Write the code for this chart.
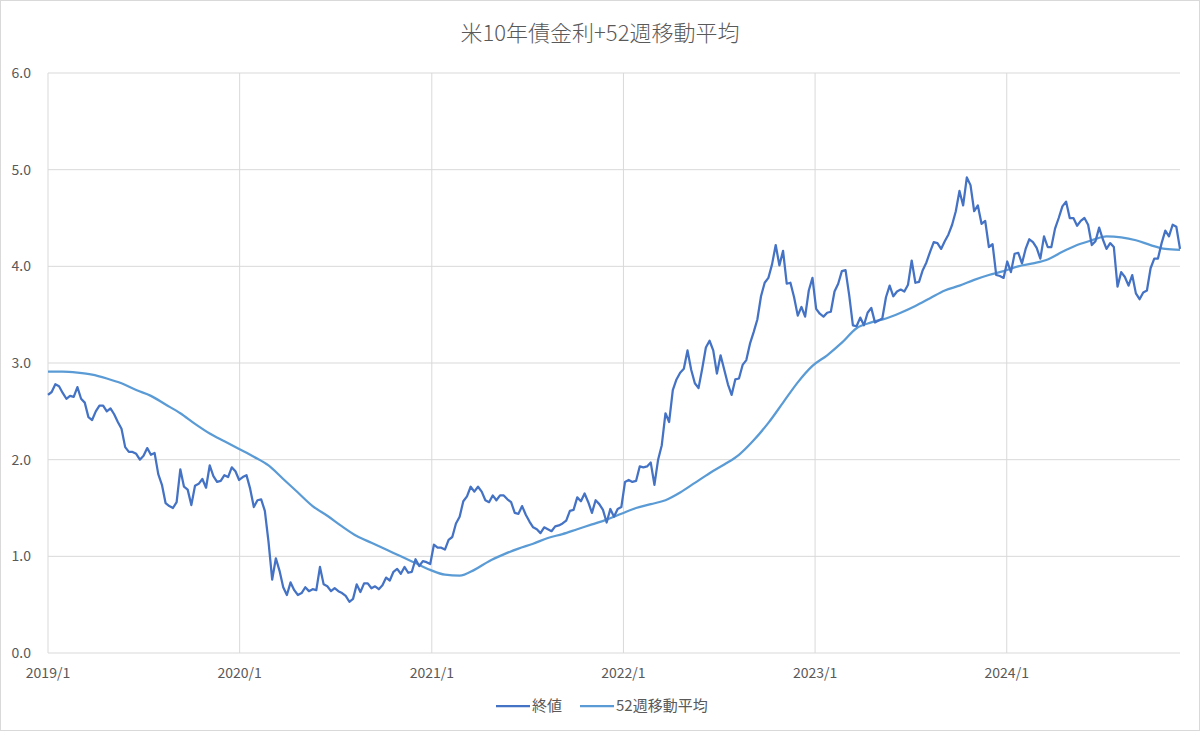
<!DOCTYPE html>
<html>
<head>
<meta charset="utf-8">
<script src="https://cdn.jsdelivr.net/npm/d3@7"></script>
<style>
  body { margin: 0; background: #fff; }
  svg { display: block; font-family: "Noto Sans CJK JP", "Noto Sans", sans-serif; }
</style>
</head>
<body>
<div id="chart"></div>
<script>
const title = "米10年債金利+52週移動平均";
const seriesNames = ["終値", "52週移動平均"];
const firstWeek = new Date(2019, 0, 4);

// weekly closes (Friday)
const close2019 = [2.67, 2.70, 2.78, 2.76, 2.69, 2.63, 2.66, 2.65, 2.75, 2.63, 2.59, 2.44, 2.41,
  2.50, 2.56, 2.56, 2.50, 2.53, 2.47, 2.39, 2.32, 2.13, 2.08, 2.08, 2.06, 2.00,
  2.04, 2.12, 2.05, 2.07, 1.85, 1.74, 1.55, 1.52, 1.50, 1.56, 1.90, 1.72, 1.69,
  1.53, 1.73, 1.75, 1.80, 1.71, 1.94, 1.83, 1.77, 1.78, 1.84, 1.82, 1.92, 1.88];
const close2020 = [1.79, 1.82, 1.84, 1.70, 1.51, 1.58, 1.59, 1.47, 1.15, 0.76, 0.98, 0.85, 0.68,
  0.60, 0.73, 0.65, 0.60, 0.62, 0.68, 0.64, 0.66, 0.65, 0.89, 0.71, 0.69, 0.64,
  0.67, 0.64, 0.62, 0.59, 0.53, 0.56, 0.71, 0.63, 0.72, 0.72, 0.67, 0.69, 0.66,
  0.70, 0.78, 0.75, 0.84, 0.87, 0.82, 0.89, 0.83, 0.84, 0.97, 0.90, 0.95, 0.94];
const close2021 = [0.92, 1.12, 1.09, 1.09, 1.07, 1.17, 1.20, 1.34, 1.41, 1.57, 1.62, 1.72, 1.67,
  1.72, 1.67, 1.58, 1.56, 1.63, 1.58, 1.63, 1.63, 1.59, 1.56, 1.45, 1.44, 1.52,
  1.43, 1.36, 1.30, 1.28, 1.24, 1.30, 1.28, 1.26, 1.31, 1.32, 1.34, 1.37, 1.47,
  1.48, 1.61, 1.57, 1.65, 1.56, 1.45, 1.58, 1.54, 1.48, 1.35, 1.49, 1.41, 1.49, 1.51];
const close2022 = [1.77, 1.79, 1.77, 1.78, 1.93, 1.92, 1.93, 1.97, 1.74, 2.00, 2.15, 2.48,
  2.39, 2.72, 2.83, 2.90, 2.94, 3.13, 2.93, 2.79, 2.74, 2.94, 3.16, 3.23, 3.13,
  2.89, 3.08, 2.93, 2.78, 2.67, 2.83, 2.84, 2.98, 3.03, 3.20, 3.32, 3.45, 3.69, 3.83,
  3.88, 4.02, 4.22, 4.01, 4.16, 3.82, 3.83, 3.68, 3.49, 3.58, 3.48, 3.75, 3.88];
const close2023 = [3.56, 3.51, 3.48, 3.52, 3.53, 3.74, 3.82, 3.95, 3.96, 3.70, 3.39, 3.38, 3.47,
  3.39, 3.52, 3.57, 3.42, 3.44, 3.46, 3.68, 3.80, 3.69, 3.74, 3.76, 3.74, 3.81,
  4.06, 3.83, 3.84, 3.96, 4.04, 4.15, 4.25, 4.24, 4.18, 4.26, 4.33, 4.43, 4.57,
  4.78, 4.63, 4.92, 4.84, 4.57, 4.63, 4.44, 4.47, 4.20, 4.23, 3.91, 3.90, 3.88];
const close2024 = [4.05, 3.94, 4.13, 4.14, 4.03, 4.18, 4.28, 4.25, 4.19, 4.08, 4.31, 4.20, 4.20,
  4.39, 4.50, 4.62, 4.67, 4.50, 4.50, 4.42, 4.47, 4.50, 4.43, 4.22, 4.26, 4.40,
  4.28, 4.18, 4.24, 4.20, 3.79, 3.94, 3.89, 3.80, 3.91, 3.72, 3.66, 3.73, 3.75,
  3.98, 4.08, 4.08, 4.24, 4.37, 4.31, 4.43, 4.41, 4.18];

// 52-week moving average, read every 4th week
const maEvery = 4;
const movingAvg = [2.91, 2.91, 2.90, 2.88, 2.84, 2.79, 2.72, 2.66, 2.57, 2.48, 2.37, 2.27, 2.19,
  2.11, 2.03, 1.94, 1.80, 1.66, 1.52, 1.42, 1.31, 1.21, 1.14, 1.07, 1.00, 0.93,
  0.86, 0.81, 0.80, 0.86, 0.95, 1.02, 1.08, 1.13, 1.19, 1.23, 1.28, 1.33, 1.38,
  1.44, 1.50, 1.54, 1.58, 1.66, 1.76, 1.86, 1.95, 2.05, 2.20, 2.38, 2.59, 2.80,
  2.97, 3.08, 3.21, 3.36, 3.42, 3.46, 3.52, 3.59, 3.67, 3.75, 3.80, 3.86, 3.91,
  3.95, 4.00, 4.03, 4.07, 4.15, 4.22, 4.27, 4.31, 4.30, 4.27, 4.22, 4.18, 4.17];

const yTicks = [0, 1, 2, 3, 4, 5, 6];
const yearTicks = [0, 1, 2, 3, 4, 5];

const closes = [].concat(close2019, close2020, close2021, close2022, close2023, close2024);
const weekDate = (i) => d3.timeDay.offset(firstWeek, 7 * i);
const closeData = closes.map((v, i) => ({ date: weekDate(i), value: v }));
const maData = movingAvg.map((v, i) => ({ date: weekDate(i * maEvery), value: v }));

const width = 1200;
const height = 732;
const margin = { top: 73, right: 20, bottom: 79, left: 48 };

const svg = d3
  .select("#chart")
  .append("svg")
  .attr("width", width)
  .attr("height", height);

// outer border
svg
  .append("rect")
  .attr("x", 0.5)
  .attr("y", 0.5)
  .attr("width", width - 1)
  .attr("height", height - 2)
  .attr("fill", "#fff")
  .attr("stroke", "#d9d9d9");

const x = d3
  .scaleTime()
  .domain([closeData[0].date, closeData[closeData.length - 1].date])
  .range([margin.left, width - margin.right]);

const y = d3
  .scaleLinear()
  .domain([0, 6])
  .range([height - margin.bottom, margin.top]);

// horizontal gridlines
svg
  .append("g")
  .selectAll("line")
  .data(yTicks)
  .join("line")
  .attr("x1", margin.left)
  .attr("x2", width - margin.right)
  .attr("y1", (d) => y(d))
  .attr("y2", (d) => y(d))
  .attr("stroke", "#d9d9d9")
  .attr("stroke-width", 1);

// vertical gridlines at each year
const xTickDates = yearTicks.map((k) => d3.timeMonth.offset(firstWeek, 12 * k));
svg
  .append("g")
  .selectAll("line")
  .data(xTickDates)
  .join("line")
  .attr("x1", (d) => x(d))
  .attr("x2", (d) => x(d))
  .attr("y1", y(6))
  .attr("y2", y(0))
  .attr("stroke", "#d9d9d9")
  .attr("stroke-width", 1);

// y labels
svg
  .append("g")
  .selectAll("text")
  .data(yTicks)
  .join("text")
  .attr("x", margin.left - 17)
  .attr("y", (d) => y(d))
  .attr("dy", "0.35em")
  .attr("text-anchor", "end")
  .attr("fill", "#595959")
  .style("font-size", "14px")
  .text((d) => d.toFixed(1));

// x labels
const fmt = d3.timeFormat("%Y/%-m");
svg
  .append("g")
  .selectAll("text")
  .data(xTickDates)
  .join("text")
  .attr("x", (d) => x(d))
  .attr("y", y(0) + 25)
  .attr("text-anchor", "middle")
  .attr("fill", "#595959")
  .style("font-size", "14px")
  .text((d) => fmt(d));

const line = d3
  .line()
  .x((d) => x(d.date))
  .y((d) => y(d.value));

svg
  .append("path")
  .datum(maData)
  .attr("fill", "none")
  .attr("stroke", "#5b9bd5")
  .attr("stroke-width", 2.25)
  .attr("stroke-linejoin", "round")
  .attr("d", line.curve(d3.curveMonotoneX));

svg
  .append("path")
  .datum(closeData)
  .attr("fill", "none")
  .attr("stroke", "#4472c4")
  .attr("stroke-width", 2.25)
  .attr("stroke-linejoin", "round")
  .attr("d", line.curve(d3.curveLinear));

// title
svg
  .append("text")
  .attr("x", width / 2)
  .attr("y", 41)
  .attr("text-anchor", "middle")
  .attr("fill", "#595959")
  .style("font-size", "22px")
  .style("font-weight", 300)
  .text(title);

// legend
const legendColors = ["#4472c4", "#5b9bd5"];
const legendX = [496, 580];
const legend = svg
  .append("g")
  .selectAll("g")
  .data(seriesNames)
  .join("g")
  .attr("transform", (d, i) => `translate(${legendX[i]},706)`);

legend
  .append("line")
  .attr("x1", 0)
  .attr("x2", 34)
  .attr("stroke", (d, i) => legendColors[i])
  .attr("stroke-width", 2.25);

legend
  .append("text")
  .attr("x", 36)
  .attr("dy", "0.35em")
  .attr("fill", "#595959")
  .style("font-size", "15px")
  .text((d) => d);
</script>
</body>
</html>
